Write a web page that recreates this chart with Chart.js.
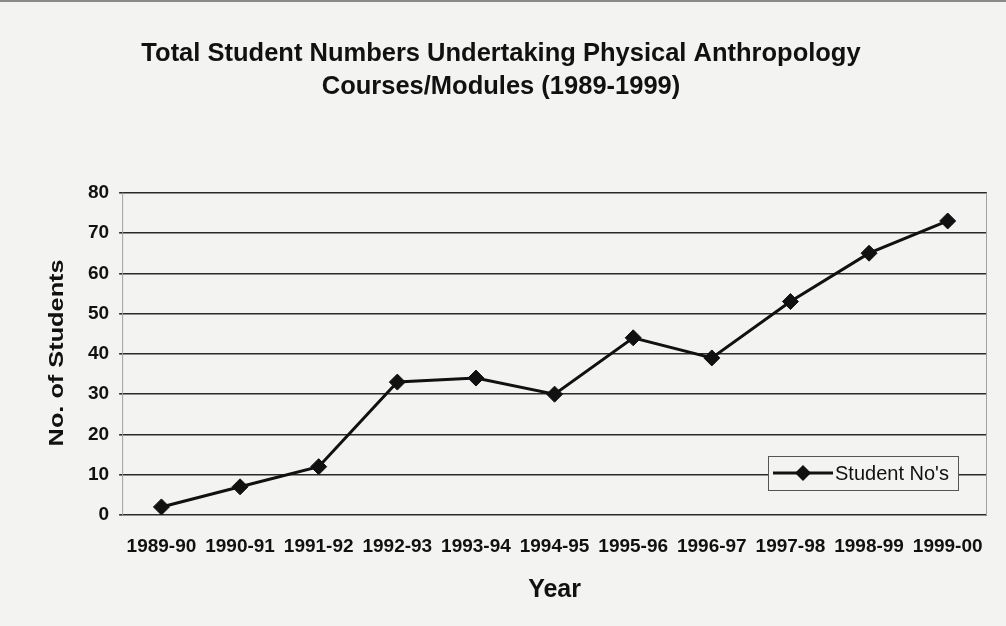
<!DOCTYPE html>
<html>
<head>
<meta charset="utf-8">
<script src="https://cdn.jsdelivr.net/npm/chart.js@4/dist/chart.umd.min.js"></script>
<style>
  html, body { margin: 0; padding: 0; background: #f3f3f1; }
  #wrap { width: 1006px; height: 626px; position: relative; border-top: 2px solid #8a8a8a; box-sizing: border-box; }
</style>
</head>
<body>
<div id="wrap"><canvas id="student-chart" width="1006" height="624"></canvas></div>
<script>
// data
const years = ['1989-90', '1990-91', '1991-92', '1992-93', '1993-94', '1994-95',
               '1995-96', '1996-97', '1997-98', '1998-99', '1999-00'];
const studentNos = [2, 7, 12, 33, 34, 30, 44, 39, 53, 65, 73];
const yTicks = [0, 10, 20, 30, 40, 50, 60, 70, 80];

const seriesName = "Student No's";
const yTitle = 'No. of Students';
const paper = '#f3f3f1';
const fontFamily = '"Liberation Sans", Arial, sans-serif';

// frame sides, the y title (stretched like the scan) and the legend inside the plot
const plotExtras = {
  id: 'plotExtras',
  beforeDatasetsDraw(chart) {
    const { ctx, chartArea: a } = chart;
    ctx.save();
    ctx.strokeStyle = '#a0a0a0';
    ctx.lineWidth = 1;
    ctx.beginPath();
    ctx.moveTo(a.left + 0.5, a.top);
    ctx.lineTo(a.left + 0.5, a.bottom);
    ctx.moveTo(a.right - 0.5, a.top);
    ctx.lineTo(a.right - 0.5, a.bottom);
    ctx.stroke();
    ctx.restore();
  },
  afterDraw(chart) {
    const { ctx, chartArea: a } = chart;
    const ds = chart.data.datasets[0];

    // y axis title
    ctx.save();
    ctx.font = 'bold 21px ' + fontFamily;
    const tw = ctx.measureText(yTitle).width;
    ctx.translate(a.left - 65, (a.top + a.bottom) / 2 - 1);
    ctx.rotate(-Math.PI / 2);
    ctx.scale(187 / tw, 1);
    ctx.fillStyle = '#111';
    ctx.textAlign = 'center';
    ctx.textBaseline = 'middle';
    ctx.fillText(yTitle, 0, 0);
    ctx.restore();

    // legend box
    const w = 190, h = 34;
    const x = a.right - 29 - w;
    const y = a.bottom - 25 - h;
    ctx.save();
    ctx.fillStyle = paper;
    ctx.fillRect(x, y, w, h);
    ctx.strokeStyle = '#555';
    ctx.lineWidth = 1;
    ctx.strokeRect(x + 0.5, y + 0.5, w, h);

    const cy = y + h / 2;
    ctx.strokeStyle = ds.borderColor;
    ctx.lineWidth = ds.borderWidth;
    ctx.beginPath();
    ctx.moveTo(x + 5, cy);
    ctx.lineTo(x + 65, cy);
    ctx.stroke();
    const r = ds.pointRadius;
    ctx.fillStyle = ds.pointBackgroundColor;
    ctx.beginPath();
    ctx.moveTo(x + 35, cy - r);
    ctx.lineTo(x + 35 + r, cy);
    ctx.lineTo(x + 35, cy + r);
    ctx.lineTo(x + 35 - r, cy);
    ctx.closePath();
    ctx.fill();

    ctx.fillStyle = '#111';
    ctx.font = '20px ' + fontFamily;
    ctx.textBaseline = 'middle';
    ctx.textAlign = 'left';
    ctx.fillText(ds.label, x + 67, cy + 1);
    ctx.restore();
  }
};

const ctx = document.getElementById('student-chart').getContext('2d');
const studentChart = new Chart(ctx, {
  type: 'line',
  data: {
    labels: years,
    datasets: [{
      label: seriesName,
      data: studentNos,
      borderColor: '#111',
      borderWidth: 3,
      pointStyle: 'rectRot',
      pointRadius: 8,
      pointBackgroundColor: '#111',
      pointBorderColor: '#111',
      pointBorderWidth: 1,
      tension: 0
    }]
  },
  options: {
    responsive: false,
    animation: false,
    layout: { padding: { left: 15, right: 19, top: 0, bottom: 0 } },
    plugins: {
      legend: { display: false },
      tooltip: { enabled: false },
      title: {
        display: true,
        text: ['Total Student Numbers Undertaking Physical Anthropology', 'Courses/Modules (1989-1999)'],
        color: '#111',
        font: { family: fontFamily, size: 25.5, weight: 'bold', lineHeight: 1.29 },
        padding: { top: 36, bottom: 89 }
      }
    },
    scales: {
      x: {
        offset: true,
        grid: { display: false, drawTicks: false },
        border: { display: false },
        ticks: {
          color: '#111',
          padding: 22,
          maxRotation: 0,
          autoSkip: false,
          font: { family: fontFamily, size: 19, weight: 'bold', lineHeight: 1 }
        },
        title: {
          display: true,
          text: 'Year',
          color: '#111',
          font: { family: fontFamily, size: 25, weight: 'bold', lineHeight: 1 },
          padding: { top: 0, bottom: 23 }
        }
      },
      y: {
        min: 0,
        max: 80,
        afterBuildTicks(scale) {
          scale.ticks = yTicks.map(v => ({ value: v }));
        },
        // room for the hand-drawn y title
        afterFit(scale) {
          scale.width += 63;
        },
        grid: { color: '#2a2a2a', lineWidth: 1.6, tickLength: 3, drawTicks: true },
        border: { display: false },
        ticks: {
          color: '#111',
          padding: 10,
          font: { family: fontFamily, size: 19, weight: 'bold' }
        }
      }
    }
  },
  plugins: [plotExtras]
});
</script>
</body>
</html>
